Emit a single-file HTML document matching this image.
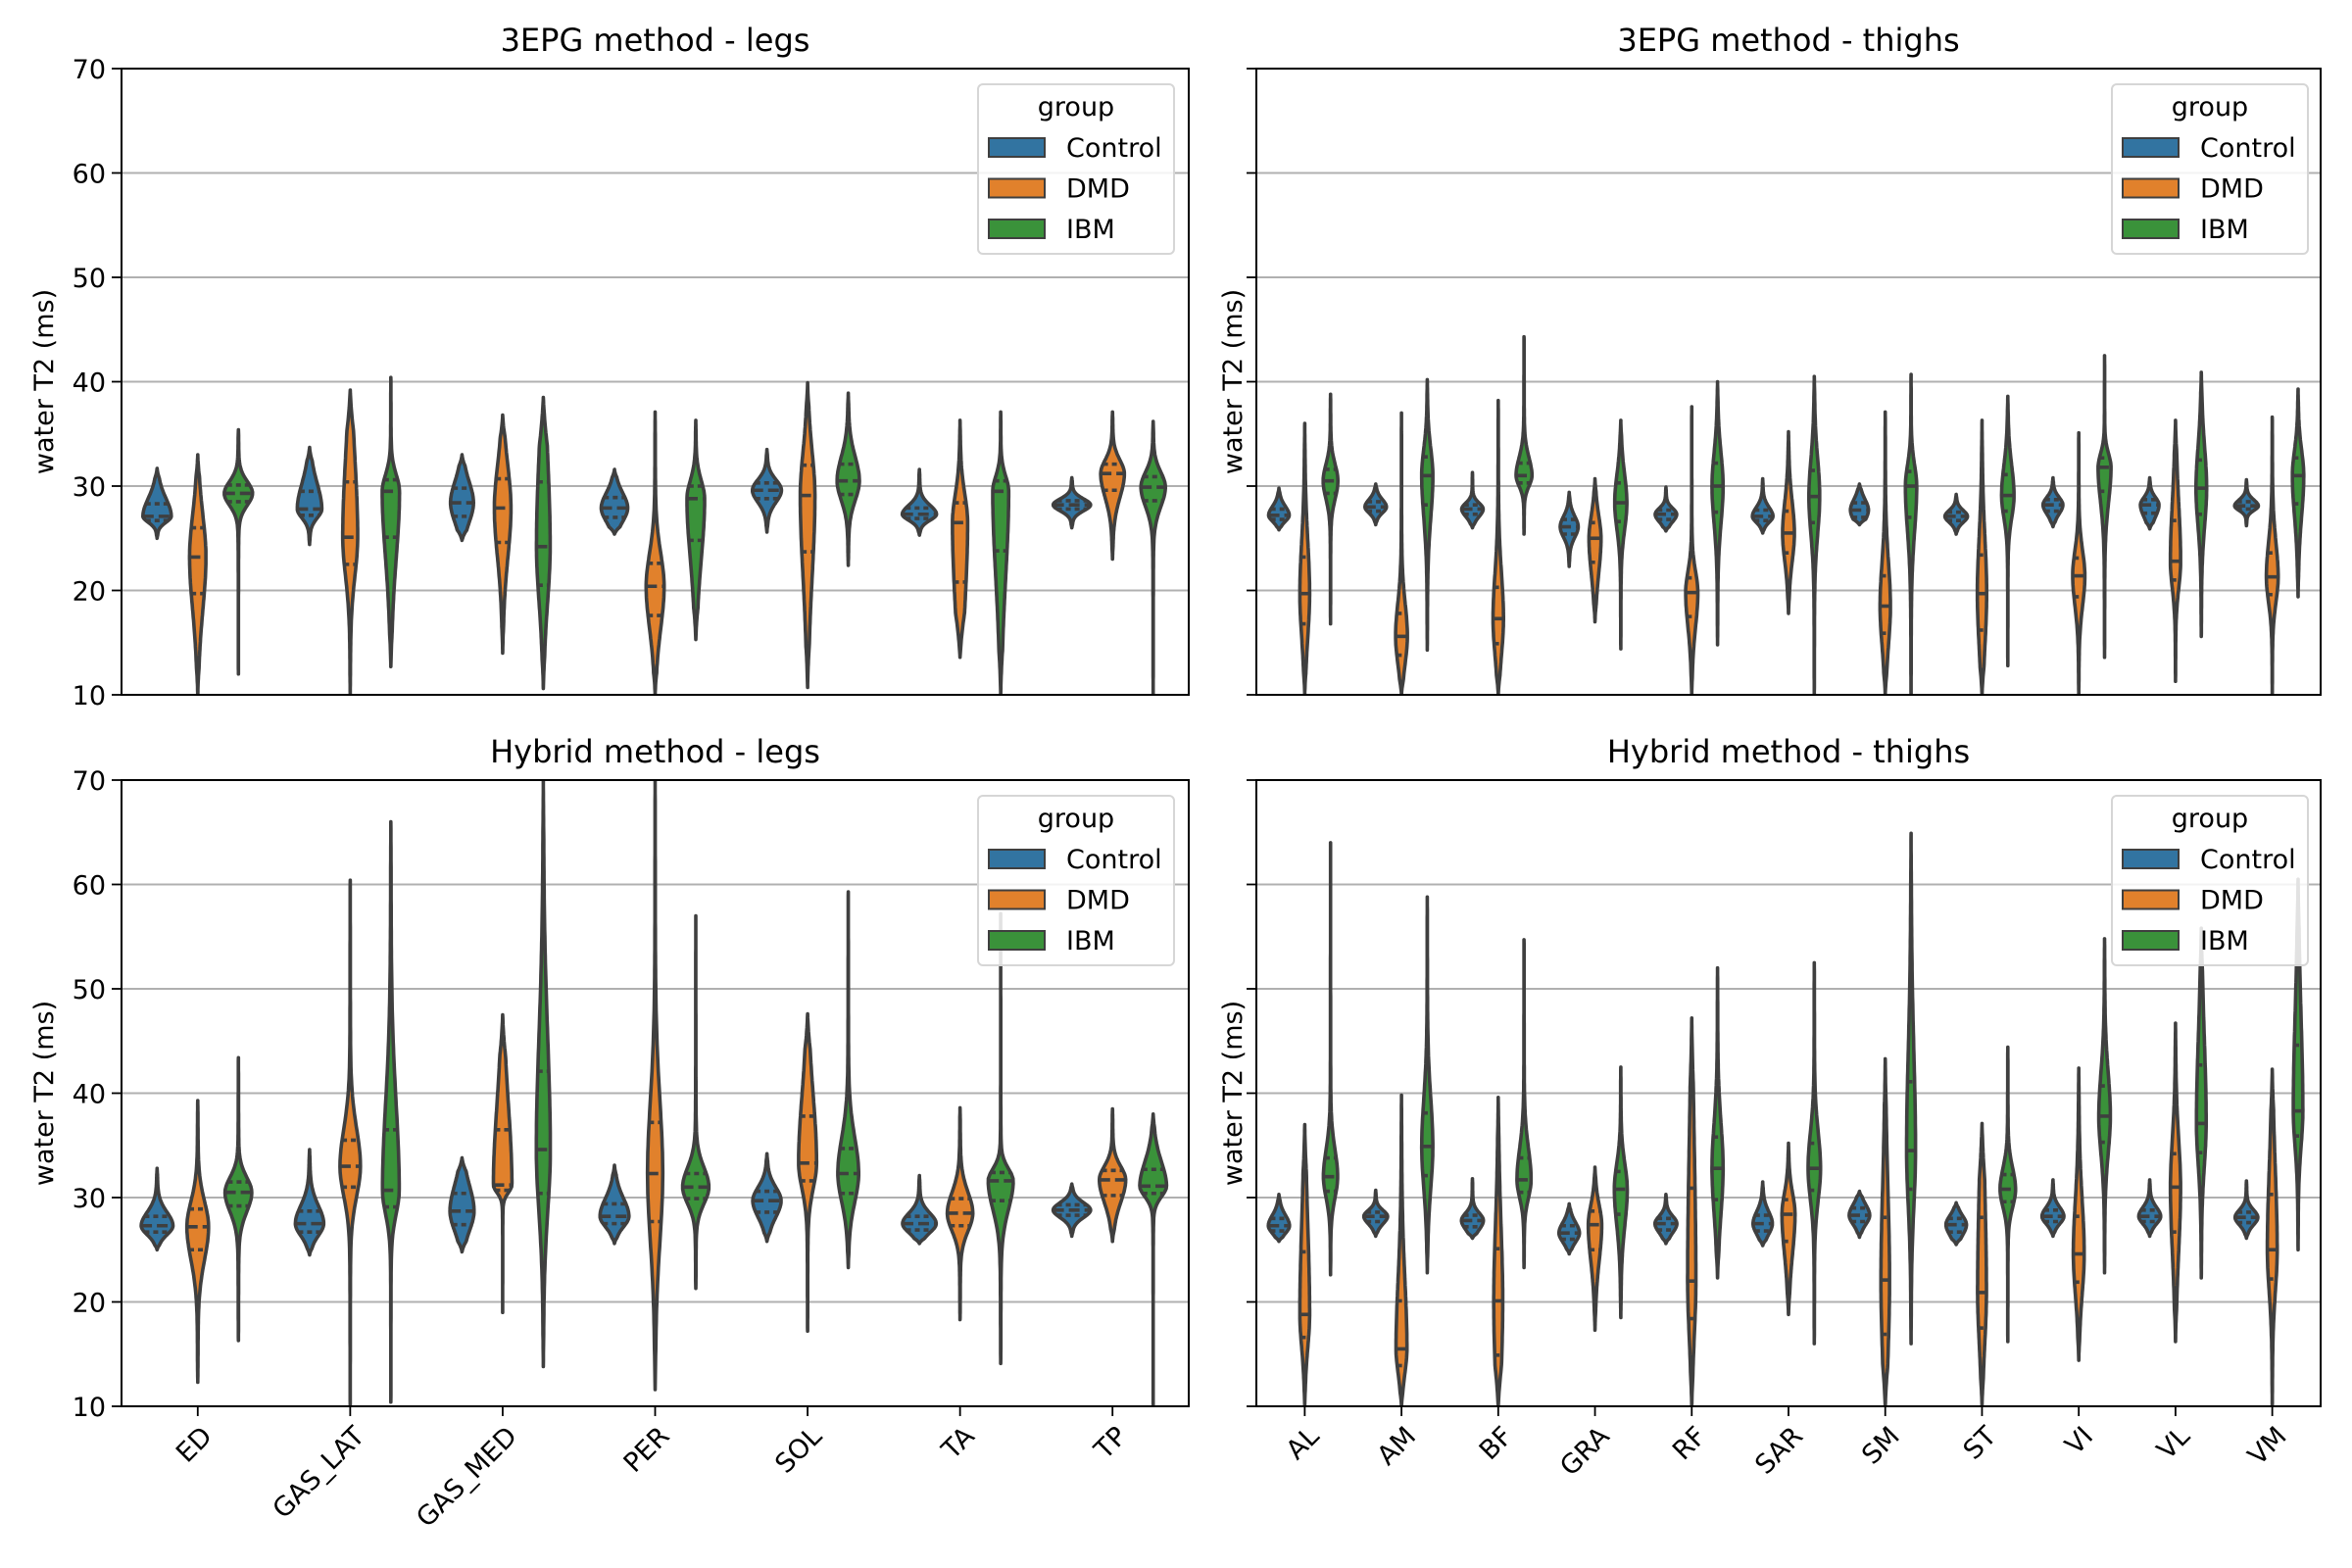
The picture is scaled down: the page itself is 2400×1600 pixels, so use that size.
<!DOCTYPE html>
<html><head><meta charset="utf-8"><title>Water T2 violins</title>
<style>
body{margin:0;background:#fff;}
svg{display:block;font-family:"DejaVu Sans","Liberation Sans",sans-serif;}
</style></head>
<body>
<svg id="fig" width="2400" height="1600" viewBox="0 0 2400 1600" xmlns="http://www.w3.org/2000/svg">
<rect x="0" y="0" width="2400" height="1600" fill="#fff"/>
</svg>
<script>
// ---- data: each entry [min, q1, median, q3, max] ----
const legCats = ["ED","GAS_LAT","GAS_MED","PER","SOL","TA","TP"];
const thighCats = ["AL","AM","BF","GRA","RF","SAR","SM","ST","VI","VL","VM"];
const groups = ["Control","DMD","IBM"];
const yTicks = [10,20,30,40,50,60,70];

const epgLegsControl = [[25,26.7,27.1,28.3,31.7],[24.4,27.2,27.8,29.5,33.7],[24.8,27.1,28.4,29.8,33],[25.4,27,27.9,28.9,31.6],[25.6,28.8,29.6,30.3,33.5],[25.3,26.9,27.3,27.9,31.6],[26,27.8,28.2,28.6,30.8]];
const epgLegsDMD = [[10,19.7,23.2,26,33],[10,22.5,25.1,30.4,39.2],[14,24.6,27.9,30.7,36.8],[10,17.6,20.4,22.6,37.1],[10.7,23.7,29.1,32,39.9],[13.6,20.8,26.5,28.4,36.3],[23,29.6,31.2,32.1,37.1]];
const epgLegsIBM = [[12,28.5,29.3,30.1,35.4],[12.7,25.1,29.5,30.6,40.4],[10.6,20.5,24.2,30.4,38.5],[15.3,24.8,28.8,30,36.3],[22.4,29.2,30.5,32.1,38.9],[10,23.8,29.5,30.5,37.1],[10,28.6,29.9,30.9,36.2]];

const epgThighsControl = [[25.8,26.8,27.2,27.8,29.8],[26.3,27.6,28,28.5,30.2],[26,27.3,27.8,28.2,31.3],[22.3,25.4,26.1,26.8,29.4],[25.7,26.8,27.3,27.7,29.9],[25.5,26.7,27.1,27.7,30.7],[26.3,27,27.7,28.4,30.2],[25.4,26.7,27.1,27.5,29.2],[26.1,27.6,28.2,28.7,30.8],[25.9,27.4,28.2,28.7,30.8],[26.2,27.8,28.1,28.5,30.6]];
const epgThighsDMD = [[10,16.8,19.7,23.2,36],[10,13.8,15.6,17.8,37],[10,14.9,17.3,20.3,38.2],[17,22.7,25,26.5,30.7],[10,17.5,19.8,21.2,37.6],[17.8,23.6,25.5,27.6,35.2],[10,15.9,18.5,21.4,37.1],[10,16.2,19.7,23.4,36.3],[10,19.4,21.4,23.1,35.1],[11.3,21,22.8,26.7,36.3],[10,19.6,21.3,23.6,36.6]];
const epgThighsIBM = [[16.8,29.3,30.5,31.6,38.8],[14.3,28.2,31,32.8,40.2],[25.4,30.3,31,32.2,44.3],[14.4,26.6,28.4,30.3,36.3],[14.8,27.5,30,32.2,40],[10,26.5,29,31.5,40.5],[10,27,30,31.4,40.7],[12.8,27.6,29.1,31.1,38.6],[13.6,29.5,31.8,32.7,42.5],[15.6,27.3,29.8,32.5,40.9],[19.4,28.3,31,32.7,39.3]];

const hybLegsControl = [[25,26.7,27.3,28.2,32.8],[24.5,26.7,27.5,28.7,34.6],[24.8,27.4,28.7,30.4,33.8],[25.6,27.5,28.2,29.4,33.1],[25.8,28.6,29.7,30.6,34.2],[25.6,26.9,27.5,28.2,32.1],[26.3,28.3,28.8,29.3,31.3]];
const hybLegsDMD = [[12.3,25,27.2,28.9,39.3],[10,31,33,35.5,60.4],[19,30.7,31.2,36.5,47.5],[11.6,27.7,32.3,37.2,70],[17.2,31.6,33.3,37.8,47.6],[18.3,27.3,28.5,29.9,38.6],[25.8,30.2,31.7,32.6,38.5]];
const hybLegsIBM = [[16.3,29.2,30.5,31.5,43.4],[10.4,29.1,30.7,36.5,66],[13.8,30.4,34.6,42.1,70],[21.3,29.9,31,32.3,57],[23.3,30.4,32.3,34.7,59.3],[14.1,29.7,31.6,32.4,57.2],[10,30.4,31.1,32.7,38]];

const hybThighsControl = [[25.8,26.8,27.3,28,30.3],[26.3,27.7,28.2,28.6,30.7],[26.1,27.2,27.8,28.3,31.8],[24.6,26,26.6,27.3,29.4],[25.6,26.9,27.5,28,30.3],[25.4,26.8,27.5,28.3,31.5],[26.2,27.7,28.3,29,30.6],[25.5,26.7,27.4,28,29.5],[26.3,27.7,28.2,28.8,31.7],[26.3,27.7,28.2,28.8,31.7],[26.1,27.6,28.1,28.6,31.6]];
const hybThighsDMD = [[10,16.6,18.8,24.8,37],[10,13.9,15.5,20.1,39.8],[10,14.9,20.1,25.1,39.6],[17.3,25,27.4,28.7,32.9],[10,18.4,22,30.9,47.2],[18.8,25.8,28.4,29.8,35.2],[10,16.9,22.1,28.1,43.3],[10,17.5,20.9,28.1,37.1],[14.4,21.9,24.6,28.2,42.4],[16.2,26.7,31,34.2,46.7],[10,22.2,25,30.3,42.3]];
const hybThighsIBM = [[22.6,30.6,32,33.8,64],[22.8,32.1,34.9,38.1,58.8],[23.3,30.5,31.7,33.8,54.7],[18.5,28.4,30.8,32.5,42.5],[22.3,29.8,32.8,35.8,52],[16,30.7,32.8,35.2,52.5],[16,30.8,34.5,41.1,64.9],[16.2,29.6,30.8,32.2,44.4],[22.8,35.3,37.8,40.7,54.8],[22.3,34.3,37.1,42.7,55.8],[25,35.9,38.3,44.6,60.5]];

const panels = [
 {name:"epg-legs", title:"3EPG method - legs", x0:124,x1:1213,y0:70,y1:709, cats:legCats, series:[epgLegsControl,epgLegsDMD,epgLegsIBM], ylabels:true, xlabels:false, lx:998},
 {name:"epg-thighs", title:"3EPG method - thighs", x0:1282,x1:2368,y0:70,y1:709, cats:thighCats, series:[epgThighsControl,epgThighsDMD,epgThighsIBM], ylabels:false, xlabels:false, lx:2155},
 {name:"hybrid-legs", title:"Hybrid method - legs", x0:124,x1:1213,y0:796,y1:1435, cats:legCats, series:[hybLegsControl,hybLegsDMD,hybLegsIBM], ylabels:true, xlabels:true, lx:998},
 {name:"hybrid-thighs", title:"Hybrid method - thighs", x0:1282,x1:2368,y0:796,y1:1435, cats:thighCats, series:[hybThighsControl,hybThighsDMD,hybThighsIBM], ylabels:false, xlabels:true, lx:2155}
];
const colors = ["#3274a1","#e1812c","#3a923a"];
const EDGE = "#3f3f3f";
const NS = "http://www.w3.org/2000/svg";
const fig = document.getElementById("fig");
function mk(tag, attrs, parent){const e=document.createElementNS(NS,tag);for(const k in attrs)e.setAttribute(k,attrs[k]);(parent||fig).appendChild(e);return e;}

function shape(s, v){
  const [mn,q1,md,q3,mx]=s;
  const sig = v<md ? Math.max((md-q1)*1.48,0.4) : Math.max((q3-md)*1.48,0.4);
  const d=(v-md)/sig;
  let w=0.78*Math.exp(-0.5*d*d)+0.22/(1+0.6*d*d);
  const edge=Math.min(1,(v-mn)/(0.5*sig+0.01),(mx-v)/(0.5*sig+0.01));
  return w*Math.max(edge,0);
}

panels.forEach((p,pi)=>{
  const g=mk("g",{});
  
  
  const yS=v=>p.y1-(v-10)/60*(p.y1-p.y0);
  const catW=(p.x1-p.x0)/p.cats.length;
  const clipId="clip"+pi;
  const cp=mk("clipPath",{id:clipId},g);
  mk("rect",{x:p.x0,y:p.y0,width:p.x1-p.x0,height:p.y1-p.y0},cp);
  yTicks.forEach(t=>{
    const gl=mk("line",{x1:p.x0,x2:p.x1,y1:yS(t),y2:yS(t),stroke:"#b0b0b0","stroke-width":2},g);
    
    
    const tk=mk("line",{x1:p.x0-10,x2:p.x0,y1:yS(t),y2:yS(t),stroke:"#000","stroke-width":1.8},g);
    
    
    if(p.ylabels){
      const tl=mk("text",{x:p.x0-16,y:yS(t)+10,"text-anchor":"end","font-size":27},g);
      tl.textContent=t;
      
      
    }
  });
  let minIQR=1e9;
  p.series.forEach(sr=>sr.forEach(s=>{minIQR=Math.min(minIQR,Math.max(s[3]-s[1],0.4));}));
  const slot=catW*0.8/3;
  const vg=mk("g",{"clip-path":"url(#"+clipId+")"},g);
  p.cats.forEach((c,ci)=>{
    const cx=p.x0+(ci+0.5)*catW;
    p.series.forEach((sr,gi)=>{
      const s=sr[ci];
      const xc=cx+(gi-1)*slot;
      const half=0.46*slot*Math.pow(minIQR/Math.max(s[3]-s[1],0.4),0.4);
      const N=90;const right=[],left=[];
      for(let k=0;k<=N;k++){const v=s[0]+(s[4]-s[0])*k/N;const w=half*shape(s,v);right.push([xc+w,yS(v)]);left.push([xc-w,yS(v)]);}
      const pts=right.concat(left.reverse());
      const d="M"+pts.map(q=>q[0].toFixed(1)+","+q[1].toFixed(1)).join("L")+"Z";
      const path=mk("path",{d:d,fill:colors[gi],stroke:EDGE,"stroke-width":3.6,"stroke-linejoin":"round"},vg);
      
      
      [1,2,3].forEach(qi=>{
        const v=s[qi];const w=half*shape(s,v);
        const ln=mk("line",{x1:xc-w,x2:xc+w,y1:yS(v),y2:yS(v),stroke:EDGE,"stroke-width":3.6,"stroke-dasharray":qi===2?"11,5":"5,4"},vg);
        
        
      });
    });
    if(p.xlabels){
      const xt=mk("line",{x1:cx,x2:cx,y1:p.y1,y2:p.y1+10,stroke:"#000","stroke-width":1.8},g);
      
      
      const ax=cx+16, ay=p.y1+32;
      const tx=mk("text",{x:ax,y:ay,"text-anchor":"end","font-size":27,transform:"rotate(-45 "+ax+" "+ay+")"},g);
      tx.textContent=c;
      
      
    }
  });
  const fr=mk("rect",{x:p.x0,y:p.y0,width:p.x1-p.x0,height:p.y1-p.y0,fill:"none",stroke:"#000","stroke-width":2},g);
  
  
  const ti=mk("text",{x:(p.x0+p.x1)/2,y:p.y0-18,"text-anchor":"middle","font-size":32},g);
  ti.textContent=p.title;
  
  
  const yl=mk("text",{x:0,y:0,"text-anchor":"middle","font-size":27,transform:"translate("+(p.x0-(p.ylabels?70:15))+","+((p.y0+p.y1)/2)+") rotate(-90)"},g);
  yl.textContent="water T2 (ms)";
  
  
  const lg=mk("g",{},g);
  
  
  const ly=p.y0+16;
  mk("rect",{x:p.lx,y:ly,width:200,height:173,rx:5,fill:"#fff","fill-opacity":0.85,stroke:"#d6d6d6","stroke-width":2},lg);
  const lt=mk("text",{x:p.lx+100,y:ly+32,"text-anchor":"middle","font-size":27},lg);
  lt.textContent="group";
  
  
  groups.forEach((gn,gi)=>{
    const yc=ly+64+gi*41.5;
    const sw=mk("rect",{x:p.lx+11,y:yc-9,width:57,height:19,fill:colors[gi],stroke:EDGE,"stroke-width":2},lg);
    
    
    const tx=mk("text",{x:p.lx+90,y:yc+10,"font-size":27},lg);
    tx.textContent=gn;
    
    
  });
});
</script>
</body></html>
